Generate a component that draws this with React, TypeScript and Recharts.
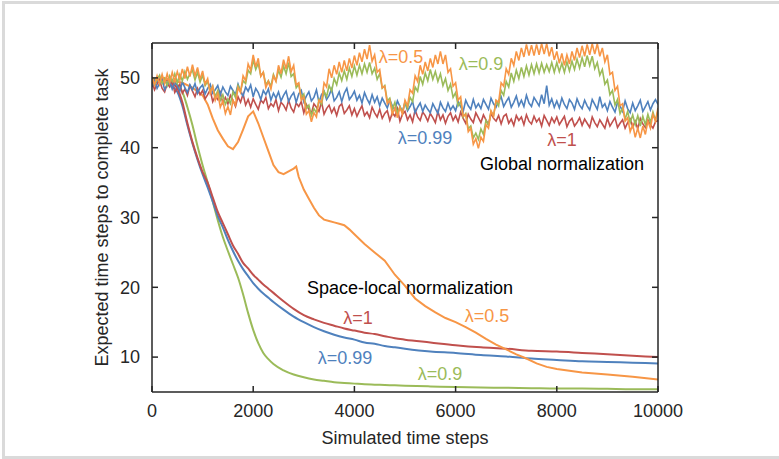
import { LineChart, Line, XAxis, YAxis, ReferenceDot } from "recharts";

const RED = "#c0504d";
const BLUE = "#4f81bd";
const GREEN = "#9bbb59";
const ORANGE = "#f79646";
const INK = "#262626";

const X_TICKS = [0, 2000, 4000, 6000, 8000, 10000];
const Y_TICKS = [10, 20, 30, 40, 50];

// global normalization runs, sampled every 50 steps (rows of 500 steps)
const GLOBAL_X = Array.from({ length: 201 }, (_, i) => i * 50);

const globalRed = [
  49.4, 48.3, 49.1, 49.7, 48.5, 48.0, 49.2, 48.7, 49.5, 47.9,
  48.6, 49.1, 47.8, 48.4, 47.5, 48.9, 48.1, 47.3, 48.5, 47.6,
  48.2, 47.0, 47.6, 48.3, 46.6, 47.4, 46.9, 47.9, 46.4, 47.2,
  46.3, 47.5, 46.8, 45.9, 47.3, 46.5, 47.7, 46.1, 46.9, 45.8,
  47.0, 46.2, 45.5, 46.8, 46.4, 47.2, 45.6, 46.3, 45.9, 46.9,
  45.3, 46.5, 46.1, 45.4, 46.8, 45.7, 45.1, 46.4, 45.9, 46.6,
  45.0, 46.2, 45.5, 44.9, 46.3, 45.8, 45.2, 46.6, 44.8, 45.6,
  46.1, 45.0, 45.7, 44.6, 45.9, 46.3, 44.9, 45.4, 46.0, 44.7,
  45.6, 44.5, 45.3, 46.0, 44.6, 45.1, 44.3, 45.8, 45.0, 44.4,
  45.5, 44.2, 44.9, 45.3, 43.9, 45.0, 44.5, 45.6, 43.8, 44.8,
  45.2, 44.0, 44.7, 43.7, 45.4, 44.4, 43.9, 45.1, 44.6, 43.8,
  44.9, 44.3, 43.6, 45.2, 44.0, 44.7, 43.5, 44.5, 45.0, 43.9,
  44.6, 43.7, 45.1, 44.2, 43.5, 44.8, 44.1, 43.6, 45.0, 44.3,
  43.6, 44.7, 44.0, 43.3, 44.9, 44.2, 43.8, 44.6, 43.4, 44.5,
  44.8, 43.5, 44.1, 43.2, 44.6, 43.9, 44.4, 43.3, 44.7, 43.8,
  43.4, 44.5, 43.7, 44.2, 43.1, 44.6, 43.9, 43.2, 44.3, 43.6,
  44.4, 43.3, 43.9, 44.5, 43.0, 43.8, 44.2, 43.1, 43.6, 44.3,
  43.2, 44.1, 43.5, 42.9, 44.4, 43.6, 43.0, 44.0, 43.4, 42.8,
  44.2, 43.1, 43.7, 44.3, 42.9, 43.5, 44.0, 42.8, 43.6, 44.1,
  43.0, 43.8, 42.7, 44.2, 43.4, 42.9, 44.0, 43.3, 42.8, 43.7,
  43.9,
];

const globalBlue = [
  48.7, 49.6, 48.5, 49.2, 49.8, 48.3, 49.0, 49.5, 48.4, 49.3,
  48.9, 48.1, 49.4, 48.6, 47.9, 49.0, 48.3, 49.2, 47.8, 48.6,
  49.0, 47.7, 48.5, 49.1, 47.8, 48.3, 48.9, 47.6, 48.7, 48.0,
  47.5, 48.8, 48.2, 47.6, 49.1, 48.0, 47.4, 48.7, 48.1, 49.0,
  47.3, 48.5, 47.9, 46.9, 48.2, 47.6, 48.4, 46.8, 47.8, 47.1,
  48.0, 46.7, 47.5, 48.1, 46.6, 47.4, 47.9, 46.5, 47.7, 48.2,
  46.6, 47.4, 48.0, 46.7, 47.2, 48.3, 46.5, 47.6, 48.1, 46.9,
  47.5, 48.4, 46.7, 47.2, 48.0, 46.6, 47.8, 48.5, 46.9, 47.4,
  48.1, 46.8, 47.5, 46.4, 47.9, 47.0, 46.3, 47.6, 46.5, 47.3,
  46.0, 47.1, 46.4, 45.7, 46.8, 46.0, 45.4, 46.7, 45.9, 45.2,
  46.5, 45.3, 45.9, 46.6, 45.0, 45.8, 46.4, 45.2, 46.1, 45.5,
  45.0, 46.3, 45.6, 44.9, 46.5, 45.7, 45.2, 46.4, 45.4, 46.0,
  45.3, 46.6, 45.9, 45.2, 46.8, 46.0, 45.5, 46.9, 45.7, 46.3,
  45.6, 46.9, 46.2, 45.5, 47.1, 46.3, 45.8, 46.7, 47.3, 45.9,
  46.6, 47.2, 45.8, 46.5, 47.4, 46.0, 46.8, 45.9, 47.5, 46.4,
  45.9, 47.2, 46.6, 46.0, 47.6, 46.3, 48.9, 46.1, 47.0, 45.8,
  46.7, 45.7, 47.1, 46.2, 45.6, 46.9, 46.4, 45.5, 47.0, 46.1,
  45.6, 46.8, 46.0, 45.4, 46.9, 46.2, 45.5, 47.3, 45.8, 46.3,
  45.3, 46.6, 45.8, 45.1, 46.5, 46.0, 45.2, 46.7, 45.6, 45.0,
  46.4, 45.3, 46.0, 46.8, 45.2, 45.9, 46.6, 45.4, 46.3, 46.9,
  46.2,
];

const globalGreen = [
  50.1, 49.0, 49.8, 50.4, 49.2, 49.9, 48.9, 50.3, 49.5, 50.6,
  49.3, 50.5, 49.6, 50.9, 49.8, 50.6, 51.1, 49.7, 50.8, 49.4,
  50.4, 48.9, 49.5, 48.0, 48.8, 47.3, 48.2, 46.8, 47.6, 46.2,
  47.0, 46.3, 48.0, 47.2, 48.9, 48.1, 49.6, 49.2, 51.1, 50.6,
  52.6, 51.2, 52.1, 50.3, 50.8, 49.0, 49.6, 48.8, 50.5, 49.6,
  51.1, 50.1, 51.7, 50.6, 52.2, 50.2, 50.6, 48.6, 49.1, 47.2,
  47.7, 45.6, 46.1, 44.6, 45.6, 45.0, 46.9, 46.2, 48.1, 47.3,
  48.9, 48.1, 49.9, 49.0, 50.7, 49.6, 51.0, 49.8, 51.4, 50.2,
  51.7, 50.4, 51.8, 50.6, 52.0, 50.8, 52.2, 50.6, 51.4, 49.8,
  50.6, 48.5, 48.9, 46.7, 47.1, 45.5, 46.5, 44.9, 45.9, 45.0,
  46.5, 45.6, 47.2, 46.6, 48.7, 48.1, 50.2, 49.1, 50.7, 49.6,
  51.2, 49.8, 50.9, 49.5, 50.6, 48.9, 49.9, 48.2, 49.1, 47.2,
  47.9, 46.0, 46.6, 44.4, 44.9, 42.7, 43.1, 41.4, 42.1, 41.2,
  42.7, 41.9, 43.9, 43.2, 45.2, 44.6, 46.7, 46.0, 48.2, 47.5,
  49.5, 48.7, 50.7, 49.5, 51.1, 49.9, 51.5, 50.2, 51.7, 50.4,
  51.9, 50.6, 52.0, 50.7, 52.1, 50.8, 51.9, 50.9, 52.2, 50.8,
  52.2, 50.9, 52.1, 50.8, 52.3, 51.0, 52.4, 51.2, 52.7, 51.4,
  52.9, 51.6, 53.2, 51.8, 53.1, 51.3, 52.2, 50.4, 51.2, 49.1,
  49.7, 47.6, 48.2, 46.1, 46.9, 44.9, 45.7, 44.1, 45.2, 43.6,
  44.7, 43.3, 44.6, 43.1, 44.5, 43.3, 44.8, 43.6, 45.1, 43.9,
  45.3,
];

const globalOrange = [
  50.2, 49.0, 50.3, 49.1, 50.5, 49.2, 50.6, 49.3, 50.8, 49.5,
  50.9, 49.7, 51.3, 49.9, 51.6, 50.2, 51.9, 50.3, 51.5, 49.8,
  51.0, 49.1, 49.9, 47.8, 48.8, 46.8, 47.8, 45.8, 46.7, 44.9,
  45.9, 44.7, 46.8, 46.1, 48.6, 47.9, 50.3, 49.6, 52.0, 51.1,
  53.3, 51.6, 52.8, 50.2, 50.8, 48.6, 49.5, 48.4, 50.3, 49.5,
  51.8, 50.6, 52.6, 51.3, 53.1, 50.9, 51.8, 49.0, 49.3, 46.8,
  47.3, 44.8, 45.3, 43.7, 45.0, 44.4, 46.8, 46.5, 49.3, 48.7,
  51.3, 50.0, 51.8, 50.5, 52.3, 50.8, 52.5, 51.0, 52.8, 51.4,
  53.2, 51.8, 53.6, 52.3, 54.1, 52.7, 54.7, 52.4, 53.3, 50.8,
  51.2, 48.6, 48.8, 46.3, 46.8, 44.8, 45.7, 44.3, 45.8, 44.8,
  46.8, 46.0, 48.3, 47.8, 50.3, 49.5, 51.8, 50.5, 52.3, 51.0,
  52.8, 51.5, 53.3, 52.0, 53.8, 52.0, 53.3, 50.8, 51.3, 48.8,
  49.3, 46.8, 47.3, 44.5, 44.8, 42.3, 42.8, 40.5, 41.3, 39.9,
  41.5, 40.9, 43.3, 42.8, 45.3, 44.5, 46.8, 46.5, 49.3, 48.8,
  51.3, 50.5, 52.8, 51.8, 53.8, 52.5, 54.3, 53.0, 54.8, 53.2,
  54.7, 53.2, 54.8, 53.3, 54.9, 53.4, 54.9, 53.1, 54.4, 52.6,
  53.8, 52.1, 53.5, 51.8, 53.3, 52.0, 53.8, 52.5, 54.3, 52.9,
  54.6, 53.1, 54.8, 53.3, 54.9, 53.4, 54.9, 53.1, 54.3, 52.3,
  53.3, 50.5, 50.8, 48.2, 48.8, 46.0, 46.3, 43.8, 44.3, 42.3,
  43.3, 41.5, 42.8, 41.4, 43.1, 41.9, 43.8, 42.8, 44.8, 43.8,
  45.7,
];

// space-local normalization runs
const LOCAL_X = [
  0, 200, 400, 500, 600, 700, 800, 900, 1000, 1100, 1200, 1300, 1400, 1500,
  1600, 1700, 1800, 1900, 2000, 2100, 2200, 2300, 2400, 2600, 2800, 3000,
  3200, 3400, 3600, 3800, 4000, 4200, 4400, 4600, 4800, 5000, 5500, 6000,
  6500, 7000, 7500, 8000, 8500, 9000, 9500, 10000,
];

const localRed = [
  49.5, 49.8, 49.2, 48.5, 46.5, 43.5, 40.8, 38.5, 36.5, 35.0, 32.9, 30.8,
  29.2, 27.6, 26.0, 24.8, 23.5, 22.7, 21.8, 21.1, 20.4, 19.8, 19.2, 18.0,
  16.9, 16.0, 15.4, 14.9, 14.5, 14.1, 13.8, 13.5, 13.3, 13.0, 12.7, 12.5,
  12.1, 11.7, 11.4, 11.2, 10.9, 10.8, 10.6, 10.4, 10.2, 10.0,
];

const localBlue = [
  49.2, 49.5, 48.8, 48.0, 46.0, 43.2, 40.6, 38.3, 36.2, 34.3, 32.3, 30.2,
  28.6, 26.8, 25.2, 23.8, 22.6, 21.6, 20.6, 19.8, 19.1, 18.5, 17.9, 16.8,
  15.8, 15.0, 14.3, 13.7, 13.2, 12.8, 12.5, 12.1, 11.9, 11.6, 11.4, 11.2,
  10.8, 10.6, 10.3, 10.1, 9.8, 9.6, 9.4, 9.3, 9.2, 9.1,
];

const localGreen = [
  49.8, 50.0, 49.5, 49.0, 48.0, 45.8, 43.2, 40.2, 37.5, 35.0, 32.3, 29.6,
  27.2, 25.2, 23.3, 21.4, 19.0, 16.3, 13.9, 12.0, 10.6, 9.7, 9.0, 8.1, 7.5,
  7.1, 6.8, 6.6, 6.4, 6.3, 6.2, 6.1, 6.05, 6.0, 5.95, 5.9, 5.8, 5.7, 5.65,
  5.6, 5.55, 5.5, 5.5, 5.45, 5.4, 5.4,
];

const LOCAL_ORANGE_X = [
  0, 200, 400, 600, 800, 1000, 1100, 1200, 1300, 1400, 1500, 1600, 1700,
  1800, 1900, 2000, 2100, 2200, 2300, 2400, 2500, 2600, 2700, 2800, 2850,
  2900, 3000, 3100, 3200, 3300, 3400, 3500, 3600, 3700, 3800, 3900, 4000,
  4200, 4400, 4600, 4800, 5000, 5200, 5400, 5600, 5800, 6000, 6200, 6400,
  6600, 6800, 7000, 7200, 7400, 7600, 7800, 8000, 8500, 9000, 9500, 10000,
];

const localOrange = [
  49.5, 50.0, 49.6, 49.3, 48.6, 47.5, 46.2, 44.2, 42.5, 41.3, 40.2, 39.8,
  40.8, 42.6, 44.5, 45.2, 43.5, 41.5, 39.5, 37.5, 36.5, 36.2, 36.6, 37.0,
  37.3, 35.8, 34.0, 32.7, 31.4, 30.3, 29.7, 29.5, 29.3, 29.1, 28.9, 28.3,
  27.6, 26.2, 25.0, 23.8, 21.8, 20.2, 18.4, 17.3, 16.4, 15.6, 15.0, 14.3,
  13.5, 12.6, 11.8, 11.1, 10.4, 9.8, 9.1, 8.6, 8.3, 7.8, 7.5, 7.2, 6.8,
];

const toPoints = (xs: number[], ys: number[]) => xs.map((x, i) => ({ x, y: ys[i] }));

const notes = [
  { x: 4921, y: 53.1, text: "λ=0.5", color: ORANGE },
  { x: 6502, y: 52.1, text: "λ=0.9", color: GREEN },
  { x: 5395, y: 41.4, text: "λ=0.99", color: BLUE },
  { x: 8103, y: 41.1, text: "λ=1", color: RED },
  { x: 8103, y: 37.7, text: "Global normalization", color: "#000" },
  { x: 5099, y: 20.0, text: "Space-local normalization", color: "#000" },
  { x: 4071, y: 15.7, text: "λ=1", color: RED },
  { x: 6621, y: 16.0, text: "λ=0.5", color: ORANGE },
  { x: 3814, y: 9.9, text: "λ=0.99", color: BLUE },
  { x: 5692, y: 7.6, text: "λ=0.9", color: GREEN },
];

const series = [
  { key: "lg", data: toPoints(LOCAL_X, localGreen), color: GREEN, curve: "monotone", w: 2 },
  { key: "lb", data: toPoints(LOCAL_X, localBlue), color: BLUE, curve: "monotone", w: 2 },
  { key: "lr", data: toPoints(LOCAL_X, localRed), color: RED, curve: "monotone", w: 2 },
  { key: "lo", data: toPoints(LOCAL_ORANGE_X, localOrange), color: ORANGE, curve: "linear", w: 2 },
  { key: "gr", data: toPoints(GLOBAL_X, globalRed), color: RED, curve: "linear", w: 1.6 },
  { key: "gb", data: toPoints(GLOBAL_X, globalBlue), color: BLUE, curve: "linear", w: 1.6 },
  { key: "gg", data: toPoints(GLOBAL_X, globalGreen), color: GREEN, curve: "linear", w: 1.6 },
  { key: "go", data: toPoints(GLOBAL_X, globalOrange), color: ORANGE, curve: "linear", w: 1.6 },
];

const axisLine = { stroke: INK, strokeWidth: 1.5 };
const blank = () => "";

export default function App() {
  return (
    <div
      style={{
        position: "relative",
        width: 779,
        height: 459,
        overflow: "hidden",
        background: "#fff",
        fontFamily: "'Liberation Sans', Arial, sans-serif",
      }}
    >
      <style>{"body{margin:0}"}</style>
      <div
        style={{
          position: "absolute",
          left: 2,
          top: 1,
          width: 800,
          height: 458,
          border: "3px solid #dadada",
          boxSizing: "border-box",
        }}
      />
      <LineChart
        width={779}
        height={459}
        margin={{ top: 33, right: 111, bottom: 37, left: 92 }}
        style={{ position: "absolute", left: 0, top: 0 }}
      >
        <XAxis
          xAxisId={0}
          type="number"
          dataKey="x"
          domain={[0, 10000]}
          ticks={X_TICKS}
          allowDataOverflow
          height={30}
          tickSize={-6}
          tickMargin={18}
          axisLine={axisLine}
          tickLine={axisLine}
          tick={{ fill: INK, fontSize: 18 }}
          label={{ value: "Simulated time steps", position: "bottom", offset: 9, fill: INK, fontSize: 18 }}
        />
        <XAxis
          xAxisId="top"
          orientation="top"
          type="number"
          dataKey="x"
          domain={[0, 10000]}
          ticks={X_TICKS}
          allowDataOverflow
          height={10}
          tickSize={-6}
          tickFormatter={blank}
          axisLine={axisLine}
          tickLine={axisLine}
        />
        <YAxis
          yAxisId={0}
          type="number"
          domain={[5, 55]}
          ticks={Y_TICKS}
          allowDataOverflow
          width={60}
          tickSize={-6}
          tickMargin={18}
          axisLine={axisLine}
          tickLine={axisLine}
          tick={{ fill: INK, fontSize: 18 }}
          label={{
            value: "Expected time steps to complete task",
            angle: -90,
            position: "insideLeft",
            offset: 10,
            fill: INK,
            fontSize: 18,
            style: { textAnchor: "middle" },
          }}
        />
        <YAxis
          yAxisId="right"
          orientation="right"
          type="number"
          domain={[5, 55]}
          ticks={Y_TICKS}
          allowDataOverflow
          width={10}
          tickSize={-6}
          tickFormatter={blank}
          axisLine={axisLine}
          tickLine={axisLine}
        />
        {series.map((s) => (
          <Line
            key={s.key}
            data={s.data}
            dataKey="y"
            xAxisId={0}
            yAxisId={0}
            type={s.curve as "linear" | "monotone"}
            stroke={s.color}
            strokeWidth={s.w}
            dot={false}
            isAnimationActive={false}
          />
        ))}
        {notes.map((n, i) => (
          <ReferenceDot
            key={i}
            xAxisId={0}
            yAxisId={0}
            x={n.x}
            y={n.y}
            r={0}
            fill="none"
            stroke="none"
            label={{ value: n.text, position: "center", fill: n.color, fontSize: 18 }}
          />
        ))}
      </LineChart>
    </div>
  );
}
